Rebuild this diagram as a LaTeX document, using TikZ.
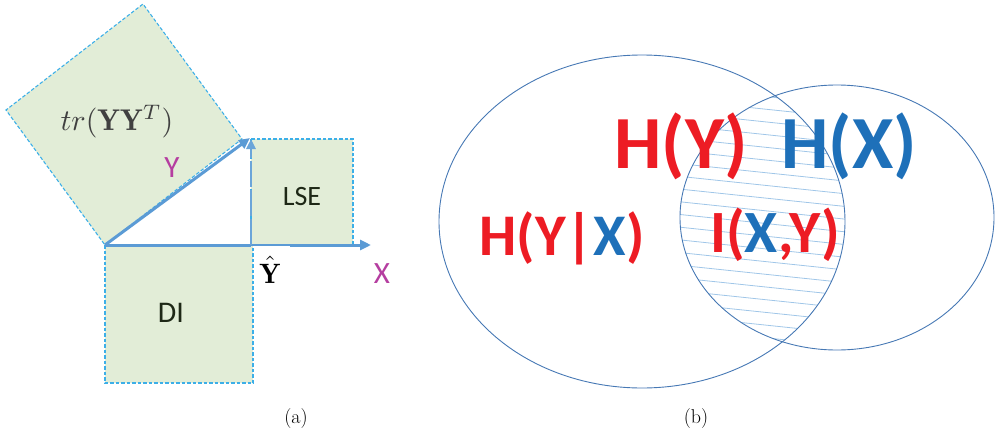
\documentclass[tikz,border=0pt]{standalone}
\usepackage{fontspec}
\newfontfamily\carl{Carlito}
\usetikzlibrary{arrows.meta}
\definecolor{sqfill}{RGB}{226,237,215}
\definecolor{sqedge}{RGB}{60,175,232}
\definecolor{arrblue}{RGB}{91,155,213}
\definecolor{magen}{RGB}{181,62,160}
\definecolor{hred}{RGB}{237,28,36}
\definecolor{hblue}{RGB}{30,112,185}
\definecolor{ellc}{RGB}{70,120,180}
\definecolor{hatchc}{RGB}{160,198,232}
\definecolor{darktxt}{RGB}{30,40,22}
\tikzset{
  sq/.style={fill=sqfill, draw=sqedge, line width=1.1pt, dash pattern=on 3.5pt off 2pt},
  vec/.style={draw=arrblue, line width=3pt, -{Triangle[length=11pt,width=10pt]}},
  lbl/.style={inner sep=0pt, anchor=base},
  ell/.style={draw=ellc, line width=0.9pt},
}
\begin{document}
\begin{tikzpicture}[x=1pt,y=-1pt]
\useasboundingbox (0,0) rectangle (997,434);
% ---------- panel (a)
\coordinate (O) at (105,245);
\coordinate (R) at (242,139);
\coordinate (T) at (143,4);
\coordinate (L) at (6,110);
\draw[sq] (O) -- (R) -- (T) -- (L) -- cycle;
\draw[sq] (251,139) rectangle (353,245);
\draw[sq] (105,245) rectangle (253,383);
\coordinate (Ytip) at (250,138);
\coordinate (Yhat) at (251,245);
\coordinate (Xmid) at (290,245);
\coordinate (Xtip) at (371,245);
\draw[vec] (O) -- (Ytip);
\draw[draw=arrblue, line width=3pt] (O) -- (Yhat);
\draw[draw=arrblue, line width=1.8pt] (Yhat) -- (Xmid);
\draw[vec] (Xmid) -- (Xtip);
\draw[draw=arrblue!90, line width=2.6pt, dash pattern=on 26pt off 3pt, -{Triangle[length=10pt,width=9pt]}] (Yhat) -- (251,139);
\node[inner sep=0pt, text=black!75, scale=3] (tr) at (117,122) {$tr(\mathbf{Y}\mathbf{Y}^T)$};
\node[lbl, text=magen] (ylab) at (172,177) {\carl\fontsize{31}{36}\selectfont Y};
\node[lbl, text=darktxt] (lse) at (302,205) {\carl\fontsize{28}{34}\selectfont LSE};
\node[lbl, text=darktxt] (di) at (171,322) {\carl\fontsize{30}{36}\selectfont DI};
\node[lbl, text=magen] (xlab) at (382,283) {\carl\fontsize{31}{36}\selectfont X};
\node[lbl, scale=2.8] (yhat) at (270,283) {$\hat{\mathbf{Y}}$};
\node[lbl] (capa) at (296,423) {\fontsize{20}{24}\selectfont (a)};
% ---------- panel (b)
\coordinate (c1) at (642,221.5);
\coordinate (c2) at (837,217.5);
\begin{scope}
  \clip (c1) ellipse [x radius=203, y radius=166.5];
  \clip (c2) ellipse [x radius=157, y radius=132.5];
  \foreach \k in {0,...,24} {
    \draw[hatchc, line width=0.8pt] (660,{60+12.7*\k}) -- (860,{60+12.7*\k+21});
  }
\end{scope}
\draw[ell] (c1) ellipse [x radius=203, y radius=166.5];
\draw[ell] (c2) ellipse [x radius=157, y radius=132.5];
\node[lbl, text=hred] (hy) at (681,168) {\carl\bfseries\fontsize{75}{80}\selectfont H(Y)};
\node[lbl, text=hblue] (hx) at (849,168) {\carl\bfseries\fontsize{75}{80}\selectfont H(X)};
\node[lbl, text=hred] (hyx) at (562,255) {\carl\bfseries\fontsize{59}{64}\selectfont H(Y|\textcolor{hblue}{X})};
\node[lbl, text=hred] (ixy) at (775,252) {\carl\bfseries\fontsize{60}{64}\selectfont I(\textcolor{hblue}{X},Y)};
\node[lbl] (capb) at (696,423) {\fontsize{20}{24}\selectfont (b)};
\end{tikzpicture}
\end{document}
